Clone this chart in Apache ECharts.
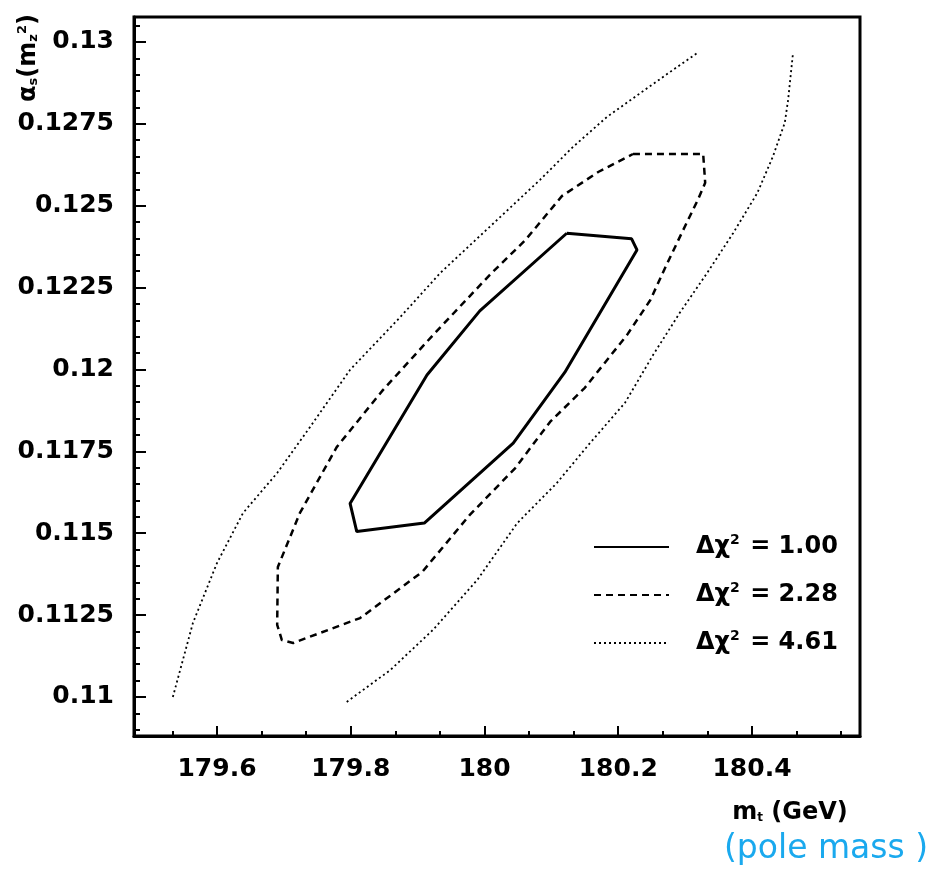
<!DOCTYPE html>
<html>
<head>
<meta charset="utf-8">
<script src="https://cdn.jsdelivr.net/npm/echarts@6/dist/echarts.min.js"></script>
<style>
html,body{margin:0;padding:0;background:#fff;}
#chart{width:947px;height:871px;}
</style>
</head>
<body>
<div id="chart"></div>
<script>
// ---- data (m_t in GeV, alpha_s) ----
const solidX = [180.123, 180.220, 180.228, 180.120, 180.043, 179.910, 179.809, 179.799, 179.914, 179.993, 180.123];
const solidY = [0.12416, 0.12399, 0.12365, 0.11991, 0.11775, 0.11531, 0.11505, 0.11591, 0.11983, 0.12179, 0.12416];

const dashedX = [180.222, 180.327, 180.330, 180.319, 180.295, 180.270, 180.248, 180.213, 180.150, 180.098, 180.046, 179.978, 179.907, 179.814, 179.714, 179.697, 179.690, 179.691, 179.724, 179.779, 179.848, 179.923, 180.008, 180.061, 180.116, 180.170, 180.222];
const dashedY = [0.12658, 0.12658, 0.12570, 0.12518, 0.12417, 0.12310, 0.12212, 0.12105, 0.11944, 0.11840, 0.11699, 0.11556, 0.11382, 0.11241, 0.11165, 0.11174, 0.11220, 0.11397, 0.11562, 0.11763, 0.11937, 0.12105, 0.12289, 0.12395, 0.12530, 0.12603, 0.12658];

const dotLeftX = [179.534, 179.564, 179.600, 179.639, 179.690, 179.739, 179.799, 179.874, 179.934, 179.998, 180.083, 180.132, 180.183, 180.233, 180.282, 180.318];
const dotLeftY = [0.11000, 0.11226, 0.11409, 0.11562, 0.11684, 0.11824, 0.11999, 0.12160, 0.12295, 0.12417, 0.12579, 0.12679, 0.12771, 0.12844, 0.12915, 0.12966];

const dotRightX = [179.794, 179.859, 179.923, 179.989, 180.049, 180.108, 180.158, 180.210, 180.252, 180.292, 180.333, 180.372, 180.408, 180.431, 180.449, 180.454, 180.461];
const dotRightY = [0.10985, 0.11082, 0.11205, 0.11357, 0.11531, 0.11653, 0.11776, 0.11898, 0.12044, 0.12173, 0.12295, 0.12417, 0.12539, 0.12649, 0.12753, 0.12823, 0.12960];

const seriesNames = ['Δχ² = 1.00', 'Δχ² = 2.28', 'Δχ² = 4.61'];

// ---- axes ----
const xMin = 179.4759, xMax = 180.5615;
const yMin = 0.108809, yMax = 0.130763;
const xTicks = [179.6, 179.8, 180.0, 180.2, 180.4];
const xTickLabels = ['179.6', '179.8', '180', '180.2', '180.4'];
const xMinorTicks = [179.4667, 179.5333, 179.6667, 179.7333, 179.8667, 179.9333, 180.0667, 180.1333, 180.2667, 180.3333, 180.4667, 180.5333];
const yTicks = [0.11, 0.1125, 0.115, 0.1175, 0.12, 0.1225, 0.125, 0.1275, 0.13];
const yTickLabels = ['0.11', '0.1125', '0.115', '0.1175', '0.12', '0.1225', '0.125', '0.1275', '0.13'];
const yMinorTicks = [0.109, 0.1095, 0.1105, 0.111, 0.1115, 0.112, 0.113, 0.1135, 0.114, 0.1145, 0.1155, 0.116, 0.1165, 0.117, 0.118, 0.1185, 0.119, 0.1195, 0.1205, 0.121, 0.1215, 0.122, 0.123, 0.1235, 0.124, 0.1245, 0.1255, 0.126, 0.1265, 0.127, 0.128, 0.1285, 0.129, 0.1295, 0.1305];

function zip(a, b) { return a.map((v, i) => [v, b[i]]); }
function labelFor(v, ticks, labels, eps) {
  for (let i = 0; i < ticks.length; i++) if (Math.abs(ticks[i] - v) < eps) return labels[i];
  return '';
}

const FONT = 'DejaVu Sans';
const chart = echarts.init(document.getElementById('chart'), null, {renderer: 'canvas'});

const option = {
  animation: false,
  backgroundColor: '#fff',
  grid: {left: 134, right: 87, top: 17, bottom: 135, show: true, borderColor: '#000', borderWidth: 3, containLabel: false},
  xAxis: [{
    type: 'value', min: xMin, max: xMax, position: 'bottom',
    axisLine: {show: true, lineStyle: {color: '#000', width: 3}},
    axisTick: {show: true, inside: true, length: 10, customValues: xTicks, lineStyle: {color: '#000', width: 2}},
    axisLabel: {show: true, customValues: xTicks, margin: 21, color: '#000', fontFamily: FONT, fontSize: 25, fontWeight: 'bold',
      formatter: v => labelFor(v, xTicks, xTickLabels, 1e-6)},
    splitLine: {show: false}
  }, {
    type: 'value', min: xMin, max: xMax, position: 'bottom', offset: 0,
    axisLine: {show: false},
    axisTick: {show: true, inside: true, length: 5, customValues: xMinorTicks, lineStyle: {color: '#000', width: 2}},
    axisLabel: {show: false},
    splitLine: {show: false}
  }],
  yAxis: [{
    type: 'value', min: yMin, max: yMax, position: 'left',
    axisLine: {show: true, lineStyle: {color: '#000', width: 3}},
    axisTick: {show: true, inside: true, length: 12, customValues: yTicks, lineStyle: {color: '#000', width: 2}},
    axisLabel: {show: true, customValues: yTicks, margin: 20, color: '#000', fontFamily: FONT, fontSize: 25, fontWeight: 'bold',
      formatter: v => labelFor(v, yTicks, yTickLabels, 1e-7)},
    splitLine: {show: false}
  }, {
    type: 'value', min: yMin, max: yMax, position: 'left', offset: 0,
    axisLine: {show: false},
    axisTick: {show: true, inside: true, length: 6, customValues: yMinorTicks, lineStyle: {color: '#000', width: 2}},
    axisLabel: {show: false},
    splitLine: {show: false}
  }],
  legend: {
    show: true, orient: 'vertical', left: 588, top: 528,
    itemWidth: 75, itemHeight: 14, itemGap: 20,
    itemStyle: {opacity: 0, borderWidth: 0},
    data: seriesNames,
    formatter: name => '{a|Δχ}{s|2}{a|' + name.slice(3) + '}',
    textStyle: {
      padding: [0, 0, 0, 22],
      rich: {
        a: {fontFamily: FONT, fontSize: 24, fontWeight: 'bold', color: '#000', lineHeight: 30},
        s: {fontFamily: FONT, fontSize: 14, fontWeight: 'bold', color: '#000', lineHeight: 30, padding: [0, 2, 14, 0]}
      }
    }
  },
  series: [
    {name: seriesNames[0], type: 'line', xAxisIndex: 0, yAxisIndex: 0, data: zip(solidX, solidY), symbol: 'none', showSymbol: false,
      lineStyle: {color: '#000', width: 3, type: 'solid'}, itemStyle: {color: '#000'}},
    {name: seriesNames[1], type: 'line', xAxisIndex: 0, yAxisIndex: 0, data: zip(dashedX, dashedY), symbol: 'none', showSymbol: false,
      lineStyle: {color: '#000', width: 2.5, type: [7, 5]}, itemStyle: {color: '#000'}},
    {name: seriesNames[2], type: 'line', xAxisIndex: 0, yAxisIndex: 0, data: zip(dotLeftX, dotLeftY), symbol: 'none', showSymbol: false,
      lineStyle: {color: '#000', width: 1.8, type: [2, 3]}, itemStyle: {color: '#000'}},
    {name: seriesNames[2], type: 'line', xAxisIndex: 0, yAxisIndex: 0, data: zip(dotRightX, dotRightY), symbol: 'none', showSymbol: false,
      lineStyle: {color: '#000', width: 1.8, type: [2, 3]}, itemStyle: {color: '#000'}}
  ],
  graphic: [
    {type: 'text', x: 29, y: 58, rotation: Math.PI / 2,
      style: {text: '{a|α}{s|s}{a|(m}{s|z}{p|2}{a|)}', align: 'center', verticalAlign: 'middle',
        rich: {
          a: {fontFamily: FONT, fontSize: 24, fill: '#000', fontWeight: 'bold'},
          s: {fontFamily: FONT, fontSize: 13, fill: '#000', fontWeight: 'bold', padding: [10, 0, 0, 0]},
          p: {fontFamily: FONT, fontSize: 13, fill: '#000', fontWeight: 'bold', padding: [0, 0, 12, 0]}
        }}},
    {type: 'text', x: 790, y: 813,
      style: {text: '{a|m}{s|t}{a| (GeV)}', align: 'center', verticalAlign: 'middle',
        rich: {
          a: {fontFamily: FONT, fontSize: 24, fill: '#000', fontWeight: 'bold'},
          s: {fontFamily: FONT, fontSize: 12, fill: '#000', fontWeight: 'bold', padding: [10, 0, 0, 0]}
        }}},
    {type: 'text', x: 826, y: 849,
      style: {text: '(pole mass )', align: 'center', verticalAlign: 'middle',
        fontFamily: FONT, fontSize: 33, fill: '#1aa9ee', fontWeight: 'normal'}}
  ]
};
chart.setOption(option);
</script>
</body>
</html>
